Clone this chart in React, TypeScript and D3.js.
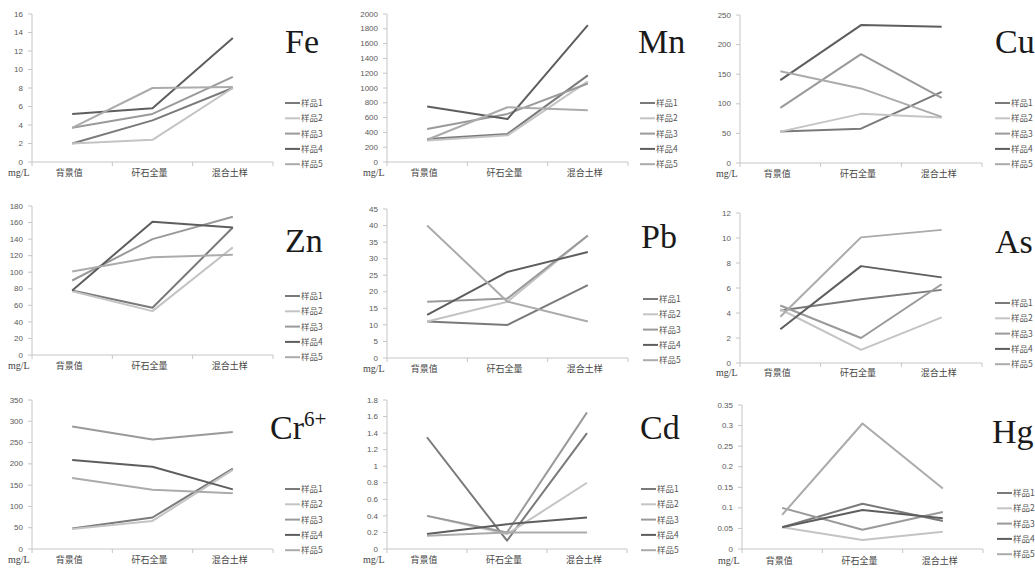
import React from "react";
import * as d3 from "d3";

const categories = ["背景值", "矸石全量", "混合土样"];
const seriesNames = ["样品1", "样品2", "样品3", "样品4", "样品5"];
const seriesColors = ["#7a7a7a", "#c4c4c4", "#9a9a9a", "#5e5e5e", "#ababab"];

// values per element: rows = 样品1..5, columns = categories
const feValues = [[2.0, 4.5, 8.0], [2.0, 2.4, 8.0], [3.7, 5.2, 9.2], [5.2, 5.8, 13.4], [3.7, 8.0, 8.1]];
const mnValues = [[310, 380, 1170], [290, 360, 1090], [445, 650, 1060], [750, 580, 1850], [300, 740, 700]];
const cuValues = [[53, 58, 120], [53, 83, 77], [93, 184, 110], [140, 233, 230], [155, 126, 78]];
const znValues = [[78, 57, 154], [77, 53, 130], [90, 140, 167], [78, 161, 154], [101, 118, 121]];
const pbValues = [[11, 10, 22], [11, 17, 37], [17, 18, 37], [13, 26, 32], [40, 17, 11]];
const asValues = [[4.2, 5.1, 5.85], [4.3, 1.05, 3.65], [4.6, 2.0, 6.3], [2.7, 7.75, 6.85], [3.7, 10.05, 10.65]];
const crValues = [[48, 74, 189], [47, 66, 186], [288, 257, 275], [209, 193, 140], [167, 139, 131]];
const cdValues = [[1.35, 0.1, 1.4], [0.4, 0.18, 0.8], [0.4, 0.2, 1.65], [0.18, 0.3, 0.38], [0.16, 0.2, 0.2]];
const hgValues = [[0.053, 0.11, 0.068], [0.053, 0.022, 0.042], [0.1, 0.047, 0.09], [0.053, 0.095, 0.075], [0.083, 0.305, 0.147]];

const feTicks = [0, 2, 4, 6, 8, 10, 12, 14, 16];
const mnTicks = [0, 200, 400, 600, 800, 1000, 1200, 1400, 1600, 1800, 2000];
const cuTicks = [0, 50, 100, 150, 200, 250];
const znTicks = [0, 20, 40, 60, 80, 100, 120, 140, 160, 180];
const pbTicks = [0, 5, 10, 15, 20, 25, 30, 35, 40, 45];
const asTicks = [0, 2, 4, 6, 8, 10, 12];
const crTicks = [0, 50, 100, 150, 200, 250, 300, 350];
const cdTicks = [0, 0.2, 0.4, 0.6, 0.8, 1, 1.2, 1.4, 1.6, 1.8];
const hgTicks = [0, 0.05, 0.1, 0.15, 0.2, 0.25, 0.3, 0.35];

const titles = ["Fe", "Mn", "Cu", "Zn", "Pb", "As", "Cr", "Cd", "Hg"];
const titleSups = ["", "", "", "", "", "", "6+", "", ""];

const panelValues = [feValues, mnValues, cuValues, znValues, pbValues, asValues, crValues, cdValues, hgValues];
const panelTicks = [feTicks, mnTicks, cuTicks, znTicks, pbTicks, asTicks, crTicks, cdTicks, hgTicks];

// layout (positions only)
const layouts = [
  { ax: 32, xe: 273, yt: 14, yb: 162, tx: 285, ty: 53, lx: 285, ly: 103, cy: 176 },
  { ax: 387, xe: 628, yt: 14, yb: 162, tx: 638, ty: 53, lx: 640, ly: 103, cy: 176 },
  { ax: 740, xe: 982, yt: 15, yb: 163, tx: 995, ty: 53, lx: 995, ly: 103, cy: 177 },
  { ax: 32, xe: 273, yt: 206, yb: 355, tx: 285, ty: 252, lx: 285, ly: 296, cy: 369 },
  { ax: 387, xe: 628, yt: 209, yb: 358, tx: 641, ty: 248, lx: 643, ly: 299, cy: 372 },
  { ax: 740, xe: 982, yt: 213, yb: 363, tx: 995, ty: 253, lx: 995, ly: 303, cy: 376 },
  { ax: 32, xe: 273, yt: 400, yb: 549, tx: 270, ty: 439, lx: 285, ly: 489, cy: 563 },
  { ax: 387, xe: 627, yt: 400, yb: 549, tx: 640, ty: 439, lx: 641, ly: 489, cy: 563 },
  { ax: 742, xe: 983, yt: 405, yb: 549, tx: 992, ty: 443, lx: 997, ly: 493, cy: 564 },
];

const sansFont = "Liberation Sans, Arial, sans-serif";
const cjkFont = "Noto Sans CJK SC, sans-serif";
const serifFont = "Liberation Serif, DejaVu Serif, serif";

function Panel({ idx }: { idx: number }) {
  const L = layouts[idx];
  const ticks = panelTicks[idx];
  const values = panelValues[idx];
  const x = d3.scaleBand<string>().domain(categories).range([L.ax, L.xe]);
  const y = d3.scaleLinear().domain([0, ticks[ticks.length - 1]]).range([L.yb, L.yt]);
  const line = d3
    .line<number>()
    .x((_, i) => (x(categories[i]) as number) + x.bandwidth() / 2)
    .y((v) => y(v));
  const bounds = [L.ax, ...categories.map((c) => (x(c) as number) + x.bandwidth())];
  return (
    <g>
      <line x1={L.ax} x2={L.ax} y1={y(ticks[ticks.length - 1])} y2={L.yb} stroke="#c6c6c6" strokeWidth={1} />
      {ticks.map((t) => (
        <g key={t}>
          <line x1={L.ax - 4} x2={L.ax} y1={y(t)} y2={y(t)} stroke="#c6c6c6" />
          <text
            x={L.ax - 9}
            y={y(t)}
            dy="0.33em"
            textAnchor="end"
            fontSize={8}
            style={{ fontFamily: sansFont }}
            fill="#5a5a5a"
          >
            {String(t)}
          </text>
        </g>
      ))}
      <line x1={L.ax} x2={L.xe} y1={L.yb} y2={L.yb} stroke="#c6c6c6" />
      {bounds.map((b, i) => (
        <line key={i} x1={b} x2={b} y1={L.yb} y2={L.yb + 4} stroke="#c6c6c6" />
      ))}
      {categories.map((c) => (
        <text
          key={c}
          x={(x(c) as number) + x.bandwidth() / 2 - 3}
          y={L.cy}
          textAnchor="middle"
          fontSize={9}
          style={{ fontFamily: cjkFont }}
          fill="#444"
        >
          {c}
        </text>
      ))}
      <text x={L.ax - 24} y={L.cy} fontSize={10} style={{ fontFamily: serifFont }} fill="#444">
        mg/L
      </text>
      {values.map((vals, si) => (
        <path key={si} d={line(vals) || ""} fill="none" stroke={seriesColors[si]} strokeWidth={2} strokeLinejoin="round" />
      ))}
      <text x={L.tx} y={L.ty} fontSize={34} style={{ fontFamily: serifFont }} fill="#1a1a1a">
        {titles[idx]}
        {titleSups[idx] ? (
          <tspan fontSize={21} dy={-13}>
            {titleSups[idx]}
          </tspan>
        ) : null}
      </text>
      {seriesNames.map((n, si) => (
        <g key={n}>
          <line
            x1={L.lx}
            x2={L.lx + 15}
            y1={L.ly + si * 15.3}
            y2={L.ly + si * 15.3}
            stroke={seriesColors[si]}
            strokeWidth={2}
          />
          <text
            x={L.lx + 16}
            y={L.ly + si * 15.3}
            dy="0.35em"
            fontSize={8.5}
            style={{ fontFamily: cjkFont }}
            fill="#555"
          >
            {n}
          </text>
        </g>
      ))}
    </g>
  );
}

export default function App() {
  return (
    <svg
      width={1035}
      height={568}
      style={{ position: "absolute", left: 0, top: 0, background: "#fff" }}
    >
      <rect x={0} y={0} width={1035} height={568} fill="#fff" />
      {layouts.map((_, i) => (
        <Panel key={i} idx={i} />
      ))}
    </svg>
  );
}
